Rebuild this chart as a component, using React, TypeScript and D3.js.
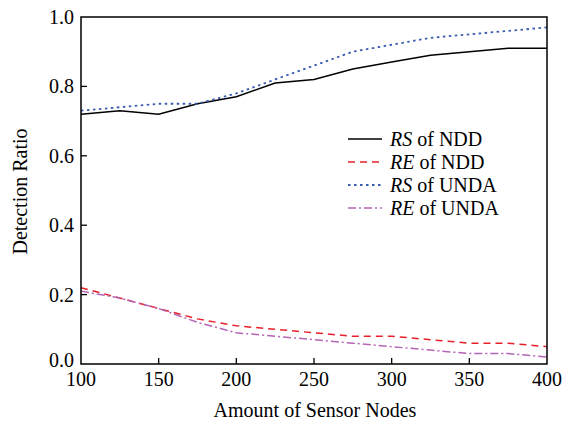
import React from "react";
import * as d3 from "d3";

const nodes = [100, 125, 150, 175, 200, 225, 250, 275, 300, 325, 350, 375, 400];
const rsNDD = [0.72, 0.73, 0.72, 0.75, 0.77, 0.81, 0.82, 0.85, 0.87, 0.89, 0.9, 0.91, 0.91];
const reNDD = [0.22, 0.19, 0.16, 0.13, 0.11, 0.1, 0.09, 0.08, 0.08, 0.07, 0.06, 0.06, 0.05];
const rsUNDA = [0.73, 0.74, 0.75, 0.75, 0.78, 0.82, 0.86, 0.9, 0.92, 0.94, 0.95, 0.96, 0.97];
const reUNDA = [0.21, 0.19, 0.16, 0.12, 0.09, 0.08, 0.07, 0.06, 0.05, 0.04, 0.03, 0.03, 0.02];
const xTicks = [100, 150, 200, 250, 300, 350, 400];
const yTicks = [0, 0.2, 0.4, 0.6, 0.8, 1.0];

const series = [
  { it: "RS", rest: " of NDD", values: rsNDD, color: "#000000", dash: "none", width: 1.5 },
  { it: "RE", rest: " of NDD", values: reNDD, color: "#e8202a", dash: "7,5", width: 1.5 },
  { it: "RS", rest: " of UNDA", values: rsUNDA, color: "#3a5cae", dash: "2.5,3.5", width: 1.8 },
  { it: "RE", rest: " of UNDA", values: reUNDA, color: "#b465b6", dash: "8,3,2,3", width: 1.5 },
];

const L = 81, R = 547, T = 17, B = 364;
const font = "Liberation Serif, DejaVu Serif, serif";
const FS = 20;

export default function App() {
  const x = d3.scaleLinear().domain([100, 400]).range([L, R]);
  const y = d3.scaleLinear().domain([0, 1]).range([B, T]);
  const line = d3.line<number>().x((_, i) => x(nodes[i])).y((d) => y(d));
  return (
    <svg width={562} height={421} style={{ position: "absolute", left: 0, top: 0, background: "#fff", fontFamily: font }}>
      {series.map((s, i) => (
        <path key={i} d={line(s.values) || ""} fill="none" stroke={s.color} strokeWidth={s.width}
          strokeDasharray={s.dash} />
      ))}
      <rect x={L} y={T} width={R - L} height={B - T} fill="none" stroke="#000" strokeWidth={1.5} />
      {xTicks.map((t) => (
        <g key={t}>
          {t > 100 && t < 400 && <line x1={x(t)} x2={x(t)} y1={B} y2={B - 6} stroke="#000" strokeWidth={1.3} />}
          <text x={x(t)} y={386} textAnchor="middle" fontSize={FS} style={{ fontFamily: font }}>{t}</text>
        </g>
      ))}
      {yTicks.map((t) => (
        <g key={t}>
          {t > 0 && t < 1 && <line x1={L} x2={L + 6} y1={y(t)} y2={y(t)} stroke="#000" strokeWidth={1.3} />}
          <text x={74} y={y(t) + (t === 0 ? 3 : 7)} textAnchor="end" fontSize={FS} style={{ fontFamily: font }}>{t.toFixed(1)}</text>
        </g>
      ))}
      <text x={315} y={417} textAnchor="middle" fontSize={FS} style={{ fontFamily: font }}>Amount of Sensor Nodes</text>
      <text transform={`translate(27,${(T + B) / 2 + 1}) rotate(-90)`} textAnchor="middle" fontSize={FS}
        style={{ fontFamily: font }}>Detection Ratio</text>
      {series.map((s, i) => {
        const yy = 139 + i * 23;
        return (
          <g key={i}>
            <line x1={348} x2={382} y1={yy} y2={yy} stroke={s.color} strokeWidth={s.width} strokeDasharray={s.dash} />
            <text x={390} y={yy + 6.5} fontSize={FS} style={{ fontFamily: font }}>
              <tspan fontStyle="italic">{s.it}</tspan>{s.rest}
            </text>
          </g>
        );
      })}
    </svg>
  );
}
